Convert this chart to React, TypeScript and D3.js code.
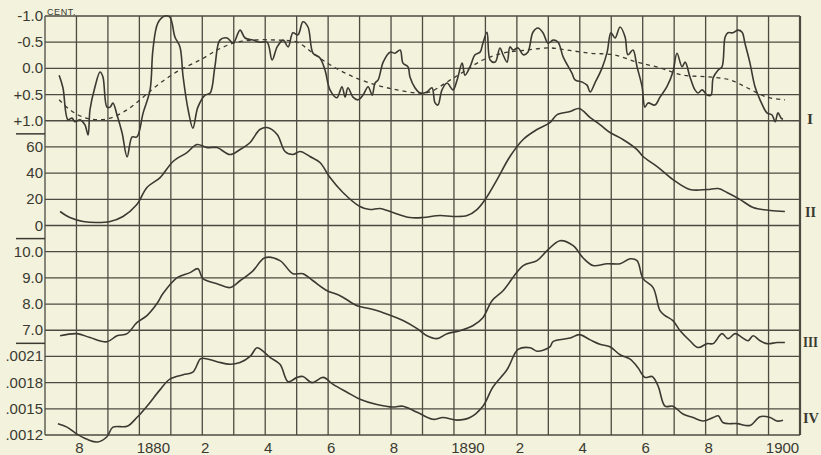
import * as d3 from 'd3'
import { useEffect, useRef } from 'react'

const width = 821
const height = 455
const plotLeft = 45
const plotRight = 800
const plotTop = 16
const plotBottom = 435
const rowStep = (plotBottom - plotTop) / 16

const bg = '#f3f2dc'
const ink = '#3a3a32'

// x axis: one grid column per year
const yearGrid = d3.range(1877, 1902)
const yearTicks = [1878, 1880, 1882, 1884, 1886, 1888, 1890, 1892, 1894, 1896, 1898, 1900]
const yearLabels = ['8', '1880', '2', '4', '6', '8', '1890', '2', '4', '6', '8', '1900']

// panel tick values and labels
const ticksI = [-1, -0.5, 0, 0.5, 1]
const labelsI = ['-1.0', '-0.5', '0.0', '+0.5', '+1.0']
const ticksII = [60, 40, 20, 0]
const labelsII = ['60', '40', '20', '0']
const ticksIII = [10, 9, 8, 7]
const labelsIII = ['10.0', '9.0', '8.0', '7.0']
const ticksIV = [0.0021, 0.0018, 0.0015, 0.0012]
const labelsIV = ['.0021', '.0018', '.0015', '.0012']

// I: departure (cent.), solid curve
const seriesI: [number, number][] = [
  [1877.45, 0.13], [1877.57, 0.37], [1877.73, 0.98], [1877.86, 0.95], [1877.95, 1.02],
  [1878.11, 0.98], [1878.27, 1.08], [1878.37, 1.27], [1878.43, 0.79], [1878.59, 0.35],
  [1878.75, 0.07], [1878.84, 0.16], [1878.97, 0.74], [1879.07, 0.74], [1879.16, 0.66],
  [1879.29, 0.89], [1879.45, 1.23], [1879.61, 1.69], [1879.77, 1.31], [1879.92, 1.31],
  [1880.12, 0.85], [1880.34, 0.41], [1880.43, -0.35], [1880.59, -0.87], [1880.81, -1.0],
  [1880.97, -0.98], [1881.13, -0.6], [1881.29, -0.41], [1881.39, 0.16], [1881.55, 0.79],
  [1881.7, 1.14], [1881.86, 0.74], [1882.09, 0.51], [1882.25, 0.47], [1882.4, -0.03],
  [1882.56, -0.54], [1882.79, -0.58], [1882.98, -0.48], [1883.2, -0.73], [1883.36, -0.58],
  [1883.61, -0.54], [1883.83, -0.5], [1884.06, -0.5], [1884.22, -0.16], [1884.38, -0.41],
  [1884.57, -0.54], [1884.73, -0.41], [1884.88, -0.68], [1885.04, -0.64], [1885.2, -0.89],
  [1885.36, -0.79], [1885.52, -0.29], [1885.74, -0.2], [1885.9, 0.03], [1886.06, 0.41],
  [1886.28, 0.56], [1886.44, 0.35], [1886.54, 0.55], [1886.63, 0.37], [1886.79, 0.55],
  [1886.95, 0.6], [1887.11, 0.51], [1887.27, 0.35], [1887.4, 0.51], [1887.49, 0.28],
  [1887.59, 0.22], [1887.75, -0.12], [1887.97, -0.31], [1888.13, -0.29], [1888.29, -0.35],
  [1888.38, -0.1], [1888.54, -0.03], [1888.6, 0.16], [1888.76, 0.37], [1888.92, 0.47],
  [1889.14, 0.45], [1889.3, 0.37], [1889.4, 0.66], [1889.49, 0.7], [1889.62, 0.41],
  [1889.78, 0.28], [1889.97, 0.41], [1890.1, 0.22], [1890.26, -0.1], [1890.35, 0.13],
  [1890.51, -0.03], [1890.67, -0.26], [1890.83, -0.31], [1890.92, -0.48], [1891.05, -0.69],
  [1891.15, -0.16], [1891.31, -0.12], [1891.46, -0.39], [1891.56, -0.26], [1891.69, -0.12],
  [1891.78, -0.41], [1891.88, -0.35], [1892.04, -0.39], [1892.2, -0.26], [1892.35, -0.31],
  [1892.51, -0.69], [1892.67, -0.77], [1892.83, -0.68], [1892.99, -0.48], [1893.15, -0.54],
  [1893.31, -0.5], [1893.47, -0.22], [1893.75, 0.09], [1893.85, 0.22], [1894.07, 0.26],
  [1894.23, 0.32], [1894.33, 0.45], [1894.48, 0.28], [1894.71, -0.01], [1894.87, -0.31],
  [1894.99, -0.68], [1895.12, -0.58], [1895.28, -0.79], [1895.44, -0.6], [1895.53, -0.26],
  [1895.69, -0.35], [1895.82, -0.03], [1895.98, 0.35], [1896.07, 0.74], [1896.17, 0.66],
  [1896.39, 0.7], [1896.55, 0.55], [1896.77, 0.35], [1896.96, 0.07], [1897.09, -0.29],
  [1897.25, -0.03], [1897.35, -0.12], [1897.5, 0.16], [1897.66, 0.41], [1897.76, 0.47],
  [1897.89, 0.41], [1898.05, 0.51], [1898.17, 0.51], [1898.24, 0.18], [1898.4, 0.03],
  [1898.52, -0.03], [1898.62, -0.6], [1898.71, -0.68], [1898.87, -0.68], [1899.03, -0.73],
  [1899.16, -0.69], [1899.25, -0.48], [1899.41, -0.1], [1899.57, 0.35], [1899.73, 0.6],
  [1899.95, 0.85], [1900.11, 0.89], [1900.21, 1.02], [1900.3, 0.85], [1900.4, 0.95],
  [1900.46, 0.97],
]

// I: smoothed trend, dashed
const trendI: [number, number][] = [
  [1877.45, 0.6], [1877.79, 0.79], [1878.21, 0.93], [1878.65, 0.98], [1879.07, 0.95],
  [1879.61, 0.79], [1880.12, 0.55], [1880.66, 0.28], [1881.29, 0.03], [1881.93, -0.16],
  [1882.47, -0.35], [1882.98, -0.48], [1883.61, -0.54], [1884.38, -0.54], [1885.01, -0.5],
  [1885.52, -0.29], [1886.06, -0.07], [1886.79, 0.16], [1887.55, 0.32], [1888.19, 0.41],
  [1888.83, 0.47], [1889.24, 0.45], [1889.78, 0.26], [1890.29, 0.07], [1890.92, -0.16],
  [1891.56, -0.29], [1892.32, -0.35], [1893.05, -0.39], [1893.59, -0.35], [1894.33, -0.29],
  [1895.06, -0.26], [1895.82, -0.12], [1896.55, -0.01], [1897.28, 0.13], [1898.05, 0.16],
  [1898.78, 0.22], [1899.32, 0.37], [1899.95, 0.55], [1900.52, 0.6],
]

// II
const seriesII: [number, number][] = [
  [1877.48, 10.7], [1877.79, 6.1], [1878.21, 3.1], [1878.65, 2.3], [1879.07, 3.1],
  [1879.48, 6.9], [1879.92, 16.0], [1880.24, 29.0], [1880.66, 36.6], [1881.07, 48.9],
  [1881.51, 55.7], [1881.83, 61.8], [1882.15, 59.5], [1882.47, 59.5], [1882.88, 54.2],
  [1883.2, 58.0], [1883.52, 63.4], [1883.83, 73.3], [1884.06, 74.8], [1884.38, 69.5],
  [1884.63, 56.5], [1884.88, 54.2], [1885.11, 56.5], [1885.42, 52.7], [1885.74, 48.1],
  [1886.06, 36.6], [1886.47, 25.2], [1887.01, 14.5], [1887.33, 12.2], [1887.65, 13.0],
  [1888.06, 9.9], [1888.6, 6.1], [1889.02, 6.1], [1889.56, 7.6], [1889.97, 6.9],
  [1890.42, 7.6], [1890.73, 12.2], [1890.99, 19.8], [1891.37, 35.1], [1891.78, 52.7],
  [1892.2, 65.7], [1892.64, 73.3], [1893.05, 78.6], [1893.28, 84.7], [1893.69, 87.0],
  [1893.98, 89.3], [1894.33, 82.4], [1894.64, 77.1], [1894.96, 71.0], [1895.37, 65.7],
  [1895.82, 58.0], [1896.01, 52.7], [1896.46, 45.0], [1896.96, 35.1], [1897.5, 27.5],
  [1898.05, 27.5], [1898.4, 28.2], [1898.68, 25.2], [1899.1, 19.8], [1899.51, 13.7],
  [1900.05, 11.5], [1900.52, 10.7],
]

// III
const seriesIII: [number, number][] = [
  [1877.48, 6.79], [1878.02, 6.87], [1878.43, 6.72], [1878.97, 6.56], [1879.29, 6.79],
  [1879.61, 6.87], [1879.92, 7.29], [1880.24, 7.56], [1880.56, 8.02], [1880.75, 8.4],
  [1881.2, 9.01], [1881.61, 9.2], [1881.86, 9.35], [1882.02, 8.97], [1882.47, 8.78],
  [1882.88, 8.63], [1883.2, 8.89], [1883.61, 9.27], [1883.99, 9.77], [1884.47, 9.66],
  [1884.88, 9.16], [1885.2, 9.16], [1885.52, 8.89], [1885.97, 8.51], [1886.38, 8.32],
  [1886.92, 7.94], [1887.33, 7.82], [1887.75, 7.67], [1888.38, 7.37], [1888.83, 7.06],
  [1889.14, 6.79], [1889.46, 6.68], [1889.78, 6.87], [1890.19, 6.98], [1890.61, 7.18],
  [1890.92, 7.48], [1891.21, 8.13], [1891.56, 8.51], [1892.2, 9.47], [1892.64, 9.66],
  [1892.96, 10.04], [1893.37, 10.42], [1893.79, 10.23], [1894.1, 9.77], [1894.42, 9.47],
  [1894.87, 9.54], [1895.28, 9.54], [1895.6, 9.73], [1895.82, 9.66], [1896.01, 8.97],
  [1896.33, 8.63], [1896.55, 7.75], [1896.71, 7.56], [1896.96, 7.37], [1897.19, 6.98],
  [1897.5, 6.6], [1897.76, 6.34], [1898.05, 6.49], [1898.24, 6.49], [1898.52, 6.87],
  [1898.71, 6.68], [1898.94, 6.87], [1899.16, 6.72], [1899.35, 6.6], [1899.51, 6.79],
  [1899.73, 6.6], [1899.95, 6.49], [1900.27, 6.53], [1900.52, 6.53],
]

// IV
const seriesIV: [number, number][] = [
  [1877.41, 0.00133], [1877.7, 0.00129], [1878.02, 0.00121], [1878.34, 0.00115], [1878.68, 0.00112],
  [1878.97, 0.00118], [1879.16, 0.00129], [1879.61, 0.0013], [1879.92, 0.0014], [1880.24, 0.00153],
  [1880.66, 0.00172], [1880.97, 0.00184], [1881.39, 0.00189], [1881.7, 0.00192], [1881.93, 0.00207],
  [1882.02, 0.00208], [1882.47, 0.00204], [1882.88, 0.00201], [1883.2, 0.00203], [1883.52, 0.0021],
  [1883.74, 0.0022], [1883.93, 0.00216], [1884.15, 0.00209], [1884.47, 0.00201], [1884.73, 0.00181],
  [1885.01, 0.00186], [1885.2, 0.00187], [1885.49, 0.0018], [1885.84, 0.00186], [1886.16, 0.00178],
  [1886.6, 0.00169], [1887.01, 0.00161], [1887.55, 0.00155], [1888.06, 0.00152], [1888.38, 0.00153],
  [1888.83, 0.00146], [1889.33, 0.00138], [1889.65, 0.0014], [1890.1, 0.00137], [1890.51, 0.0014],
  [1890.92, 0.00153], [1891.24, 0.00175], [1891.69, 0.00195], [1892.04, 0.00218], [1892.42, 0.0022],
  [1892.64, 0.00216], [1893.05, 0.00221], [1893.15, 0.00227], [1893.69, 0.00231], [1893.98, 0.00235],
  [1894.33, 0.00229], [1894.64, 0.00224], [1894.96, 0.00221], [1895.28, 0.00212], [1895.6, 0.00207],
  [1895.85, 0.00197], [1896.07, 0.00186], [1896.3, 0.00187], [1896.49, 0.00176], [1896.71, 0.00153],
  [1896.96, 0.00153], [1897.28, 0.00144], [1897.6, 0.0014], [1897.92, 0.00136], [1898.24, 0.0014],
  [1898.4, 0.00142], [1898.56, 0.00134], [1899.0, 0.00133], [1899.41, 0.00131], [1899.73, 0.00141],
  [1900.05, 0.0014], [1900.27, 0.00136], [1900.46, 0.00137],
]

const numerals = ['I', 'II', 'III', 'IV']

export default function App() {
  const ref = useRef<SVGSVGElement>(null)

  useEffect(() => {
    const svg = d3.select(ref.current)
    svg.selectAll('*').remove()

    const row = (i: number) => plotTop + i * rowStep

    const x = d3.scaleLinear([1877, 1901], [plotLeft, plotRight])
    const yI = d3.scaleLinear([-1, 1], [row(0), row(4)])
    const yII = d3.scaleLinear([0, 60], [row(8), row(5)])
    const yIII = d3.scaleLinear([7, 10], [row(12), row(9)])
    const yIV = d3.scaleLinear([0.0012, 0.0021], [row(16), row(13)])

    const panels = [
      { y: yI, ticks: ticksI, labels: labelsI },
      { y: yII, ticks: ticksII, labels: labelsII },
      { y: yIII, ticks: ticksIII, labels: labelsIII },
      { y: yIV, ticks: ticksIV, labels: labelsIV },
    ]

    svg.append('rect').attr('width', width).attr('height', height).attr('fill', bg)

    const grid = svg.append('g').attr('stroke', ink).attr('stroke-width', 1.3).attr('opacity', 0.9)

    // vertical year lines
    grid
      .selectAll('line.v')
      .data(yearGrid)
      .join('line')
      .attr('x1', d => x(d))
      .attr('x2', d => x(d))
      .attr('y1', plotTop)
      .attr('y2', plotBottom)
      .attr('stroke-width', d => (d === 1901 ? 2.2 : 1.3))

    // horizontal lines and labels for each panel
    panels.forEach((p, i) => {
      grid
        .append('g')
        .selectAll('line')
        .data(p.ticks)
        .join('line')
        .attr('x1', plotLeft)
        .attr('x2', plotRight)
        .attr('y1', d => p.y(d))
        .attr('y2', d => p.y(d))

      svg
        .append('g')
        .attr('font-family', '"Liberation Sans", Arial, sans-serif')
        .attr('font-size', 15)
        .attr('fill', ink)
        .attr('text-anchor', 'end')
        .selectAll('text')
        .data(p.ticks)
        .join('text')
        .attr('x', 43)
        .attr('y', d => p.y(d) + 5)
        .text((_, j) => p.labels[j])

      // short divider under each panel's labels
      if (i < 3) {
        const yy = (row([4, 8, 12][i]) + row([5, 9, 13][i])) / 2
        svg
          .append('line')
          .attr('x1', 16)
          .attr('x2', plotLeft)
          .attr('y1', yy)
          .attr('y2', yy)
          .attr('stroke', ink)
          .attr('stroke-width', 1.5)
      }
    })

    svg
      .append('text')
      .attr('x', 47)
      .attr('y', 15)
      .attr('font-family', '"Liberation Sans", Arial, sans-serif')
      .attr('font-size', 9)
      .attr('letter-spacing', 0.6)
      .attr('fill', ink)
      .text('CENT.')

    // year labels
    svg
      .append('g')
      .attr('font-family', '"Liberation Sans", Arial, sans-serif')
      .attr('font-size', 15)
      .attr('fill', ink)
      .attr('text-anchor', 'middle')
      .selectAll('text')
      .data(yearTicks)
      .join('text')
      .attr('x', (d, j) => x(d) + (yearLabels[j].length > 1 ? 14 : 3))
      .attr('y', 453)
      .text((_, j) => yearLabels[j])

    const curve = (y: d3.ScaleLinear<number, number>) =>
      d3
        .line<[number, number]>()
        .x(d => x(d[0]))
        .y(d => y(d[1]))
        .curve(d3.curveCatmullRom.alpha(0.5))

    const curves = svg
      .append('g')
      .attr('fill', 'none')
      .attr('stroke', ink)
      .attr('stroke-width', 1.6)
      .attr('stroke-linejoin', 'round')

    curves.append('path').attr('d', curve(yI)(seriesI))
    curves
      .append('path')
      .attr('d', curve(yI)(trendI))
      .attr('stroke-width', 1.3)
      .attr('stroke-dasharray', '4,4')
    curves.append('path').attr('d', curve(yII)(seriesII))
    curves.append('path').attr('d', curve(yIII)(seriesIII))
    curves.append('path').attr('d', curve(yIV)(seriesIV))

    // roman numerals at the right
    const numeralY = [119, 212, 342, 418]
    const numeralX = [807, 805, 803, 803]
    const numeralW = [6, 11, 15, 16]
    svg
      .append('g')
      .attr('font-family', '"Liberation Serif", "Times New Roman", serif')
      .attr('font-size', 15)
      .attr('font-weight', 'bold')
      .attr('fill', ink)
      .selectAll('text')
      .data(numerals)
      .join('text')
      .attr('x', (_, j) => numeralX[j])
      .attr('y', (_, j) => numeralY[j] + 5)
      .attr('textLength', (_, j) => numeralW[j])
      .attr('lengthAdjust', 'spacingAndGlyphs')
      .text(d => d)
  }, [])

  return (
    <svg
      ref={ref}
      width={width}
      height={height}
      viewBox={`0 0 ${width} ${height}`}
      style={{ position: 'absolute', left: 0, top: 0 }}
    ></svg>
  )
}
